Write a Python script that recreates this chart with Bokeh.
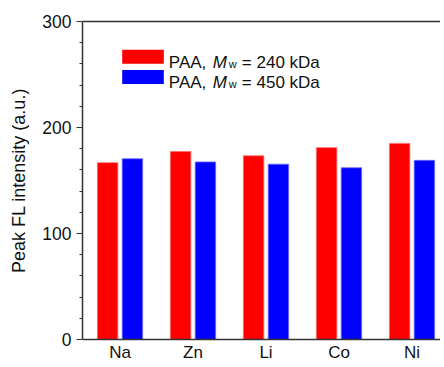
from bokeh.plotting import figure
from bokeh.models import (Range1d, FixedTicker, LinearAxis, Label, BoxAnnotation,
                          ColumnDataSource)
from bokeh.embed import file_html
from bokeh.resources import INLINE

# ---- data ----
categories = ["Na", "Zn", "Li", "Co", "Ni"]
paa_240 = [166.8, 177.3, 173.3, 181.0, 185.0]
paa_450 = [170.5, 167.5, 165.4, 162.0, 169.0]
y_major_ticks = [0, 100, 200, 300]
y_minor_ticks = [20, 40, 60, 80, 120, 140, 160, 180, 220, 240, 260, 280]
legend_labels = [("PAA, ", "M", "w", "= 240 kDa"), ("PAA, ", "M", "w", "= 450 kDa")]
colors = ["#ff0000", "#0000ff"]

FONT = "Liberation Sans"
TXT = "#111111"
idx = list(range(len(categories)))

W, H = 440, 364
p = figure(width=W, height=H, output_backend="svg", toolbar_location=None,
           x_range=Range1d(-0.514, -0.514 + (W - 82) / 73), y_range=Range1d(0, 300),
           min_border_left=82, min_border_right=0, min_border_top=21, min_border_bottom=0)
p.background_fill_color = "white"
p.border_fill_color = "white"
p.outline_line_color = None
p.xgrid.visible = False
p.ygrid.visible = False

src = ColumnDataSource(dict(x240=[i - 0.17 for i in idx], x450=[i + 0.17 for i in idx],
                            v240=paa_240, v450=paa_450))
p.vbar(x="x240", top="v240", width=0.28, source=src, fill_color=colors[0],
       line_color="#ff6a6a", line_width=0.8)
p.vbar(x="x450", top="v450", width=0.28, source=src, fill_color=colors[1],
       line_color="#6a6aff", line_width=0.8)

AX = "#333333"
# y axis
ya = p.yaxis[0]
ya.ticker = FixedTicker(ticks=y_major_ticks, minor_ticks=y_minor_ticks)
ya.axis_line_color = AX
ya.axis_line_width = 1.5
ya.major_tick_line_color = AX
ya.minor_tick_line_color = AX
ya.major_tick_line_width = 1.2
ya.minor_tick_line_width = 1.2
ya.major_tick_in = 0
ya.major_tick_out = 6
ya.minor_tick_in = 0
ya.minor_tick_out = 3
ya.major_label_text_font = FONT
ya.major_label_text_font_size = "17.5px"
ya.major_label_text_color = TXT
ya.major_label_standoff = 5
ya.axis_label = "Peak FL intensity (a.u.)"
ya.axis_label_text_font = FONT
ya.axis_label_text_font_size = "18px"
ya.axis_label_text_font_style = "normal"
ya.axis_label_text_color = TXT
ya.axis_label_standoff = 10

# x axis
xa = p.xaxis[0]
xa.ticker = FixedTicker(ticks=idx)
xa.major_label_overrides = {i: c for i, c in zip(idx, categories)}
xa.axis_line_color = AX
xa.axis_line_width = 1.5
xa.major_tick_in = 0
xa.major_tick_out = 0
xa.minor_tick_line_color = None
xa.major_label_text_font = FONT
xa.major_label_text_font_size = "17px"
xa.major_label_text_color = TXT
xa.major_label_standoff = 3

# top line
top = LinearAxis(ticker=FixedTicker(ticks=[]), axis_line_color=AX, axis_line_width=1.5,
                 major_tick_line_color=None, minor_tick_line_color=None,
                 major_label_standoff=0)
p.add_layout(top, "above")

# manual legend (rich text: italic M, subscript w)
leg_x = 0.03
leg_w = 0.57
for k, (a, m, w, b) in enumerate(legend_labels):
    y_top = 273.3 - k * 19.1
    y_bot = y_top - 13.2
    p.add_layout(BoxAnnotation(left=leg_x, right=leg_x + leg_w, top=y_top, bottom=y_bot,
                               fill_color=colors[k], fill_alpha=1.0, line_color=None))
    base = y_bot + 1.0
    common = dict(x=leg_x + leg_w, y=base, text_font=FONT, text_color=TXT,
                  text_baseline="alphabetic")
    p.add_layout(Label(text=a, x_offset=5, text_font_size="17px", **common))
    p.add_layout(Label(text=m, x_offset=49, text_font_size="17px",
                       text_font_style="italic", **common))
    p.add_layout(Label(text=w, x_offset=65, y_offset=-1.5, text_font_size="11px", **common))
    p.add_layout(Label(text=b, x_offset=78, text_font_size="17px", **common))

open("out.html", "w").write(file_html(p, INLINE))
